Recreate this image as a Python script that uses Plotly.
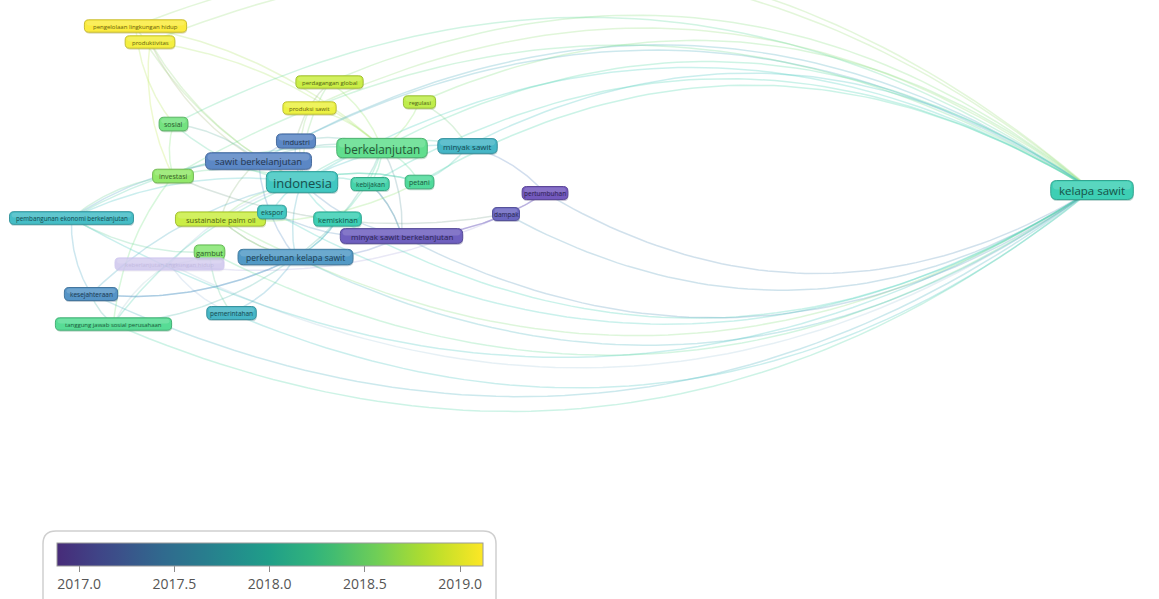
import colorsys
import numpy as np
import plotly.graph_objects as go
from plotly.colors import sample_colorscale

# ---------------- data ----------------
labels = [
    "pengelolaan lingkungan hidup", "produktivitas", "perdagangan global", "regulasi",
    "produksi sawit", "sosial", "industri", "berkelanjutan", "minyak sawit",
    "sawit berkelanjutan", "indonesia", "kebijakan", "petani", "investasi",
    "pertumbuhan", "dampak", "pembangunan ekonomi berkelanjutan", "sustainable palm oil",
    "ekspor", "kemiskinan", "minyak sawit berkelanjutan", "gambut",
    "perkebunan kelapa sawit", "keberlanjutan lingkungan hidup", "kesejahteraan",
    "pemerintahan", "tanggung jawab sosial perusahaan", "kelapa sawit",
]
node_x = [135.5, 150, 329.5, 419.5, 309.5, 173.5, 296, 382, 467.5, 258.5, 302, 370, 419.5,
          173, 545, 506, 71.5, 220.5, 272, 337.5, 401.5, 209.5, 295.5, 169.5, 91, 231.5,
          113.5, 1092]
node_y = [26, 42, 82, 102, 108, 124, 141, 148, 146, 161, 182, 184, 182, 176, 193, 214,
          218, 219, 212, 219, 236, 252, 257, 264, 294, 313, 324, 190]
node_year = [2019.1, 2019.05, 2018.85, 2018.8, 2019.0, 2018.45, 2017.3, 2018.35, 2017.7,
             2017.3, 2017.85, 2018.1, 2018.25, 2018.6, 2016.95, 2017.05, 2017.75, 2018.85,
             2017.85, 2018.0, 2017.0, 2018.55, 2017.45, 2017.0, 2017.4, 2017.7, 2018.3, 2018.0]
node_weight = [2, 2, 2, 2, 2, 6, 8, 25, 10, 16, 30, 4, 6, 6, 4, 4, 3, 8, 6, 8, 10, 8, 12,
               2, 4, 4, 2, 24]
node_faded = [23]

edge_src = [0, 0, 0, 1, 1, 1, 1, 2, 2, 2, 3, 3, 4, 4, 5, 5, 5, 6, 6, 6, 7, 7, 7, 7, 7, 7, 7,
            7, 8, 8, 8, 9, 9, 9, 9, 9, 10, 10, 10, 10, 10, 10, 10, 10, 10, 10, 10, 10, 10,
            11, 11, 12, 13, 13, 14, 14, 15, 16, 16, 17, 17, 18, 19, 19, 20, 21, 21, 22, 22,
            22, 22, 23, 24, 25, 13, 16, 5]
edge_tgt = [7, 10, 5, 7, 10, 9, 13, 7, 10, 6, 7, 8, 10, 7, 10, 9, 13, 7, 9, 10, 8, 9, 10,
            11, 12, 19, 20, 22, 10, 14, 12, 10, 13, 17, 22, 16, 11, 12, 13, 16, 17, 18, 19,
            20, 22, 23, 24, 26, 12, 20, 20, 17, 16, 15, 20, 20, 23, 24, 21, 22, 22, 20, 22,
            22, 22, 25, 23, 25, 24, 26, 24, 26, 26, 23, 26, 7]
hub_links = list(range(27))  # every term is linked to "kelapa sawit"
hub = 27

year_min, year_max = 2016.884, 2019.12
cbar_ticks = [2017.0, 2017.5, 2018.0, 2018.5, 2019.0]

# ---------------- helpers ----------------
VIR_LO = 0.12
scale_pts = np.linspace(0, 1, 21)
bar_scale = [[float(p), c] for p, c in
             zip(scale_pts, sample_colorscale("Viridis", list(VIR_LO + (1 - VIR_LO) * scale_pts)))]


def parse(c):
    return [float(v) for v in c[c.index("(") + 1:-1].split(",")]


def year_rgb(y):
    t = min(max((y - year_min) / (year_max - year_min), 0), 1)
    return parse(sample_colorscale("Viridis", [VIR_LO + (1 - VIR_LO) * t], colortype="rgb")[0])


def node_rgb(y):
    r, g, b = [v / 255 for v in year_rgb(y)]
    h, s, v = colorsys.rgb_to_hsv(r, g, b)
    s *= 0.88
    v = v + (1 - v) * 0.5
    return [x * 255 for x in colorsys.hsv_to_rgb(h, s, v)]


def mix(c, other, a):
    return [c[i] * (1 - a) + other[i] * a for i in range(3)]


def rgba(c, a=1.0):
    return f"rgba({int(c[0])},{int(c[1])},{int(c[2])},{a})"


def rrect(x0, y0, x1, y1, r):
    return (f"M {x0+r},{y0} L {x1-r},{y0} Q {x1},{y0} {x1},{y0+r} L {x1},{y1-r} "
            f"Q {x1},{y1} {x1-r},{y1} L {x0+r},{y1} Q {x0},{y1} {x0},{y1-r} "
            f"L {x0},{y0+r} Q {x0},{y0} {x0+r},{y0} Z")


fig = go.Figure()

cx, cy = np.mean(node_x), np.mean(node_y)
white, black = [255, 255, 255], [0, 0, 0]

all_edges = [(a, b, 0.15) for a, b in zip(edge_src, edge_tgt)] + \
            [(i, hub, 0.3) for i in hub_links]
t = np.linspace(0, 1, 60)
for a, b, k in all_edges:
    p0 = np.array([node_x[a], node_y[a]])
    p2 = np.array([node_x[b], node_y[b]])
    m = (p0 + p2) / 2
    d = p2 - p0
    L = np.hypot(*d)
    n = np.array([-d[1], d[0]]) / L
    if np.dot(m - np.array([cx, cy]), n) < 0:
        n = -n
    p1 = m + n * k * L
    pts = ((1 - t) ** 2)[:, None] * p0 + (2 * (1 - t) * t)[:, None] * p1 + (t ** 2)[:, None] * p2
    ca, cb = node_rgb(node_year[a]), node_rgb(node_year[b])
    col = mix(ca, cb, 0.5)
    alpha = 0.15 if a in node_faded or b in node_faded else 0.28
    fig.add_trace(go.Scatter(x=pts[:, 0], y=pts[:, 1], mode="lines",
                             line=dict(color=rgba(col, alpha), width=1.5),
                             hoverinfo="skip", showlegend=False))

# colour bar
fig.add_trace(go.Scatter(
    x=[-500], y=[-500], mode="markers", showlegend=False, hoverinfo="skip",
    marker=dict(color=[2018.0], colorscale=bar_scale, cmin=year_min, cmax=year_max,
                showscale=True,
                colorbar=dict(orientation="h", x=57 / 1159, xanchor="left",
                              y=1 - 543 / 599, yanchor="top", len=426, lenmode="pixels",
                              thickness=23, thicknessmode="pixels", xpad=0, ypad=0,
                              outlinewidth=1, outlinecolor="#9a9a9a",
                              tickvals=cbar_ticks, ticktext=[f"{v:.1f}" for v in cbar_ticks],
                              ticks="outside", ticklen=6, tickcolor="#8a8a8a", tickwidth=1.3,
                              tickfont=dict(family="Open Sans", size=14, color="#555555")))))

shapes = []
annotations = []
for i, lab in enumerate(labels):
    fs = 6.5 + 0.25 * node_weight[i]
    w = fs * (0.5 * len(lab) + 0.6)
    h = fs * 1.2 + 4
    x0, x1 = node_x[i] - w / 2, node_x[i] + w / 2
    y0, y1 = node_y[i] - h / 2, node_y[i] + h / 2
    c = node_rgb(node_year[i])
    faded = i in node_faded
    if faded:
        c = [205, 196, 238]
        fill, line, txt = rgba(c, 0.8), rgba(c, 0.6), rgba(mix(c, black, 0.1), 0.6)
    else:
        fill = rgba(c)
        line = rgba(mix(c, black, 0.2))
        txt = rgba(mix(c, black, 0.6))
    r = min(h / 2 * 0.7, 6)
    shapes.append(dict(type="path", path=rrect(x0 + 0.5, y0 + 1.5, x1 + 0.5, y1 + 1.5, r),
                       xref="x", yref="y",
                       fillcolor=rgba(mix(c, black, 0.4), 0.3 if not faded else 0.08),
                       line=dict(width=0), layer="above"))
    shapes.append(dict(type="path", path=rrect(x0, y0, x1, y1, r), xref="x", yref="y",
                       fillcolor=fill, line=dict(color=line, width=1), layer="above"))
    shapes.append(dict(type="path", path=rrect(x0 + 2, y0 + 1, x1 - 2, node_y[i] - 0.5, r * 0.7),
                       xref="x", yref="y", fillcolor="rgba(255,255,255,0.15)",
                       line=dict(width=0), layer="above"))
    annotations.append(dict(x=node_x[i], y=node_y[i] + 0.5, xref="x", yref="y", text=lab,
                            showarrow=False,
                            font=dict(family="Open Sans", size=fs - 1.0, color=txt)))

# legend frame
shapes.append(dict(type="path", path=rrect(43, 531, 496, 612, 13), xref="x", yref="y",
                   line=dict(color="#cfcfcf", width=1.5), fillcolor="rgba(0,0,0,0)",
                   layer="below"))

fig.update_layout(
    width=1159, height=599, margin=dict(l=0, r=0, t=0, b=0, autoexpand=False),
    paper_bgcolor="white", plot_bgcolor="white",
    xaxis=dict(range=[0, 1159], visible=False, fixedrange=True),
    yaxis=dict(range=[599, 0], visible=False, fixedrange=True),
    shapes=shapes, annotations=annotations, showlegend=False,
)
fig.write_html("out.html", config={"displayModeBar": False},
               post_script="document.body.style.margin='0';document.body.style.overflow='hidden';")
